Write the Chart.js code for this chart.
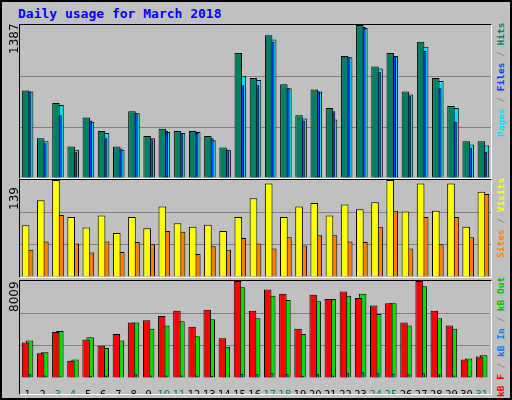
<!DOCTYPE html>
<html><head><meta charset="utf-8">
<script src="https://cdn.jsdelivr.net/npm/chart.js@4/dist/chart.umd.min.js"></script>
<style>
body{margin:0;background:#fff;}
#frame{position:absolute;left:0;top:0;width:508px;height:396px;background:#C0C0C0;border:2px solid #000;}
.pan{position:absolute;border-left:1px solid #000;border-top:1px solid #000;border-right:1px solid #fff;border-bottom:1px solid #fff;}
canvas{display:block;}
.t{position:absolute;font-family:"DejaVu Sans Mono",monospace;white-space:nowrap;}
.rot{transform-origin:0 0;transform:rotate(-90deg);}
.lg{font-size:9.5px;font-weight:bold;left:495px;}
</style></head><body>
<div id="frame"></div>
<div class="t" style="left:18px;top:6px;font-size:13px;font-weight:bold;color:#0000FF">Daily usage for March 2018</div>
<div class="pan" style="left:19px;top:24px;width:471px;height:153px"><canvas id="c1" width="471" height="153"></canvas></div>
<div class="pan" style="left:19px;top:179px;width:471px;height:97px"><canvas id="c2" width="471" height="97"></canvas></div>
<div class="pan" style="left:19px;top:280px;width:471px;height:113px"><canvas id="c3" width="471" height="113"></canvas></div>
<div class="t rot" style="left:7px;top:54px;font-size:12px;font-family:'DejaVu Sans',sans-serif" id="m1"></div>
<div class="t rot" style="left:7px;top:210px;font-size:12px;font-family:'DejaVu Sans',sans-serif" id="m2"></div>
<div class="t rot" style="left:7px;top:312px;font-size:12px;font-family:'DejaVu Sans',sans-serif" id="m3"></div>
<div class="t rot lg" style="top:137px;"><span style="color:#00E0FF">Pages</span><span style="color:#888"> / </span><span style="color:#0040FF">Files</span><span style="color:#888"> / </span><span style="color:#008060">Hits</span></div>
<div class="t rot lg" style="top:258px;"><span style="color:#FF8000">Sites</span><span style="color:#888"> / </span><span style="color:#FFFF00">Visits</span></div>
<div class="t rot lg" style="top:397px;"><span style="color:#FF0000">kB F</span><span style="color:#888"> / </span><span style="color:#0080FF">kB In</span><span style="color:#888"> / </span><span style="color:#00C000">kB Out</span></div>
<script>
const days=['1','2','3','4','5','6','7','8','9','10','11','12','13','14','15','16','17','18','19','20','21','22','23','24','25','26','27','28','29','30','31'];
const weekend=[3,4,10,11,17,18,24,25,31];
const hits=[794,361,681,286,549,427,286,606,380,446,427,427,380,276,1133,907,1293,850,568,803,634,1105,1387,1010,1133,785,1236,907,653,333,333];
const files=[785,314,568,238,521,361,267,587,351,427,408,408,361,257,841,841,1236,813,521,785,606,1095,1368,963,1105,747,1152,813,511,276,238];
const pages=[785,333,662,257,511,408,257,587,361,417,408,417,342,257,926,888,1255,813,540,785,530,1095,1359,992,1105,756,1189,879,634,304,295];
const visits=[74,110,139,86,71,88,63,86,70,101,77,72,75,66,86,113,134,86,101,106,88,104,97,107,139,94,134,95,134,72,122];
const sites=[39,51,89,48,35,51,36,50,47,66,65,33,44,39,56,48,41,57,45,60,60,51,50,72,95,41,86,47,86,57,119];
const kbF=[2923,2046,3800,1432,3186,2660,3624,4589,4764,5115,5554,4238,5642,3274,8009,5554,7307,6957,4063,6869,6518,7132,6606,5992,6167,4589,8009,5554,4326,1520,1783];
const kbIn=[300,200,150,60,180,200,60,300,200,200,200,200,180,60,350,300,400,300,180,300,200,400,480,400,350,300,400,300,200,150,60];
const kbOut=[3098,2134,3888,1520,3361,2485,3098,4589,4063,4326,4677,3449,4852,2572,7483,4940,6781,6431,3624,6343,6518,6781,6957,5291,6167,4326,7570,4940,4063,1608,1871];
const maxTop=1387, maxMid=139, maxBot=8009;
document.getElementById('m1').textContent=maxTop;
document.getElementById('m2').textContent=maxMid;
document.getElementById('m3').textContent=maxBot;

function ds(label,data,color,n){return {label,data,backgroundColor:color,borderColor:'#000',borderWidth:1,borderSkipped:'bottom',
  categoryPercentage:n===3?0.4:0.53,barPercentage:n===3?3.7:1.9};}
function mk(id,sets,max,showX){
  const x=showX?{display:true,grid:{display:false},border:{display:false},
           ticks:{padding:3,maxRotation:0,minRotation:0,autoSkip:false,font:{family:"'DejaVu Sans Condensed','Liberation Sans Narrow','DejaVu Sans'",size:11},
             color:c=>weekend.includes(c.index+1)?'#008060':'#000'},
           afterFit:s=>{s.height=16;}}
        :{display:false};
  new Chart(document.getElementById(id),{type:'bar',
    data:{labels:days,datasets:sets},
    options:{responsive:false,animation:false,devicePixelRatio:1,
      layout:{padding:0},
      plugins:{legend:{display:false},tooltip:{enabled:false}},
      scales:{
        x:x,
        y:{min:0,max:max,ticks:{display:false,stepSize:max/3},
           grid:{color:c=>c.index===0||c.index===3?'rgba(0,0,0,0)':'#808080',lineWidth:1,drawTicks:false},
           border:{display:false},afterFit:s=>{s.width=0;}}
      }}});
}
mk('c1',[ds('Hits',hits,'#008060',3),ds('Files',files,'#0040FF',3),ds('Pages',pages,'#00E0FF',3)],maxTop,false);
mk('c2',[ds('Visits',visits,'#FFFF00',2),ds('Sites',sites,'#FF8000',2)],maxMid,false);
mk('c3',[ds('kB F',kbF,'#FF0000',3),ds('kB In',kbIn,'#0080FF',3),ds('kB Out',kbOut,'#00E000',3)],maxBot,true);
</script></body></html>
